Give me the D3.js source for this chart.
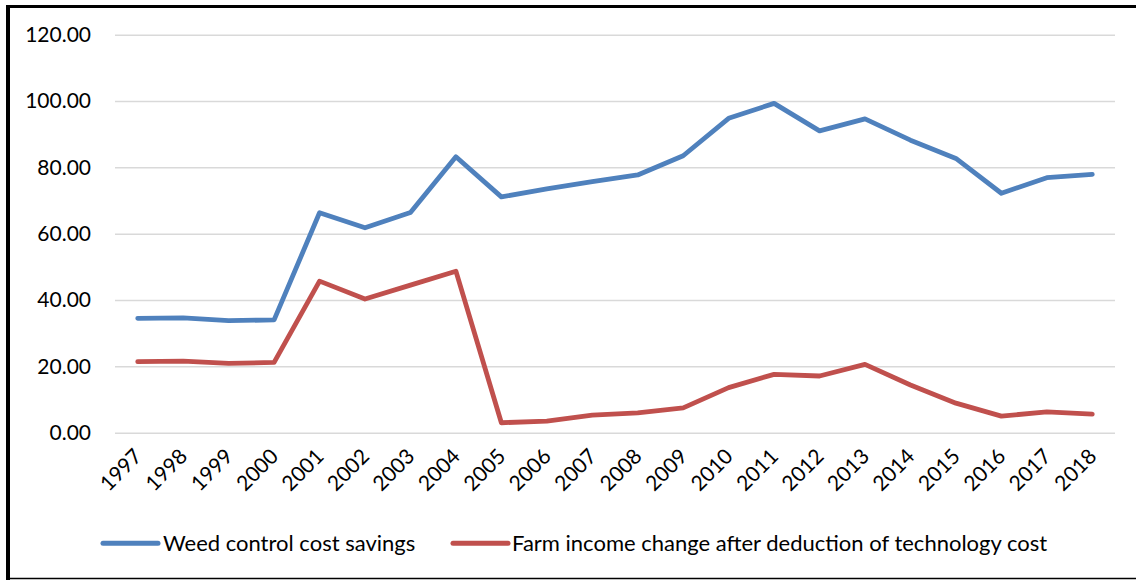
<!DOCTYPE html>
<html>
<head>
<meta charset="utf-8">
<script src="https://cdn.jsdelivr.net/npm/d3@7"></script>
<style>
  html, body { margin: 0; padding: 0; background: #fff; }
  svg { display: block; }
  text { font-family: Lato, "Open Sans", sans-serif; fill: #000; }
</style>
</head>
<body>
<svg id="chart" width="1136" height="580"></svg>
<script>
const years = ["1997","1998","1999","2000","2001","2002","2003","2004","2005","2006","2007",
               "2008","2009","2010","2011","2012","2013","2014","2015","2016","2017","2018"];
const weedSavings = [34.5, 34.6, 33.8, 34.0, 66.3, 61.8, 66.4, 83.2, 71.1, 73.5, 75.7,
                     77.7, 83.5, 94.8, 99.3, 91.0, 94.6, 88.2, 82.7, 72.2, 76.9, 77.9];
const farmIncome  = [21.4, 21.6, 20.9, 21.2, 45.7, 40.3, 44.5, 48.7, 3.0, 3.5, 5.3,
                     6.0, 7.5, 13.6, 17.6, 17.1, 20.6, 14.4, 8.9, 5.0, 6.3, 5.6];
const yTicks = [0, 20, 40, 60, 80, 100, 120];
const seriesNames = ["Weed control cost savings", "Farm income change after deduction of technology cost"];
const seriesColors = ["#4F81BD", "#C0504D"];

const svg = d3.select("#chart");
const W = 1136, H = 580;

// frame
svg.append("rect").attr("x", 0).attr("y", 0).attr("width", W).attr("height", H).attr("fill", "#fff");
svg.append("line").attr("x1", 8).attr("x2", 1136).attr("y1", 6.5).attr("y2", 6.5).attr("stroke", "#000").attr("stroke-width", 3);
svg.append("line").attr("x1", 8).attr("x2", 8).attr("y1", 5).attr("y2", 580).attr("stroke", "#000").attr("stroke-width", 4);
svg.append("line").attr("x1", 6).attr("x2", 1136).attr("y1", 578.5).attr("y2", 578.5).attr("stroke", "#000").attr("stroke-width", 1.5);

const x = d3.scalePoint().domain(years).range([115, 1115]).padding(0.5);
const y = d3.scaleLinear().domain([0, 120]).range([432.7, 34.7]);

// gridlines
const yAxis = d3.axisLeft(y).tickValues(yTicks).tickSize(-1000).tickPadding(24)
  .tickFormat(d3.format(".2f"));
const gy = svg.append("g").attr("transform", "translate(115,0)").call(yAxis);
gy.select(".domain").remove();
gy.selectAll(".tick line").attr("stroke", "#d9d9d9").attr("stroke-width", 1.5);
gy.selectAll(".tick text").attr("font-size", 21).attr("fill", "#000")
  .attr("font-family", "Lato, sans-serif");

// x axis labels
const xAxis = d3.axisBottom(x).tickSize(0).tickPadding(0);
const gx = svg.append("g").attr("transform", "translate(0,432.7)").call(xAxis);
gx.select(".domain").remove();
gx.selectAll(".tick text")
  .attr("font-size", 21).attr("fill", "#000").attr("font-family", "Lato, sans-serif")
  .attr("text-anchor", "end").attr("dy", null).attr("y", 0)
  .attr("transform", "translate(5,25) rotate(-45)");

// lines
const lineGen = d3.line().x((d, i) => x(years[i])).y(d => y(d));
[weedSavings, farmIncome].forEach((vals, k) => {
  svg.append("path").datum(vals).attr("d", lineGen)
    .attr("fill", "none").attr("stroke", seriesColors[k]).attr("stroke-width", 4.8)
    .attr("stroke-linejoin", "round").attr("stroke-linecap", "round");
});

// legend
const legendItems = [{x: 103, tx: 163}, {x: 453, tx: 512}];
legendItems.forEach((p, k) => {
  svg.append("line").attr("x1", p.x).attr("x2", p.x + 55).attr("y1", 543.3).attr("y2", 543.3)
    .attr("stroke", seriesColors[k]).attr("stroke-width", 5).attr("stroke-linecap", "round");
  svg.append("text").attr("x", p.tx).attr("y", 543.3).attr("dy", "0.35em")
    .attr("font-size", 22).text(seriesNames[k]);
});
</script>
</body>
</html>
